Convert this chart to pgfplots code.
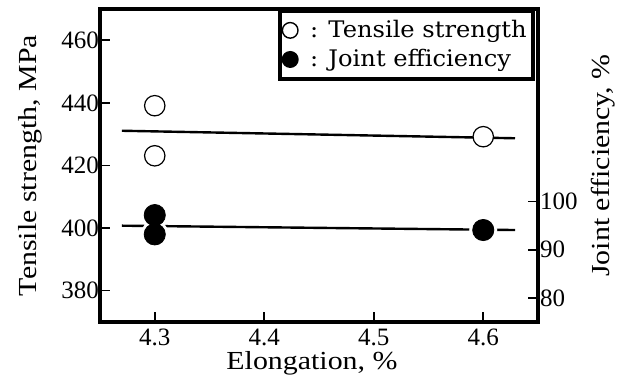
\documentclass[border=0pt]{standalone}
\usepackage{pgfplots}
\pgfplotsset{compat=1.18}
\usetikzlibrary{calc}
\usepackage{fontspec}
\setmainfont{Liberation Serif}
\newfontfamily\labfont{Liberation Serif}[FakeStretch=1.15]
\newfontfamily\legfont{DejaVu Serif}[FakeStretch=1.06]
\pgfplotstableread{
x y
4.3 439.1
4.3 423.1
4.6 429.2
}\tensile
\pgfplotstableread{
x y
4.3 97.2
4.3 93.2
4.6 94.1
}\joint
\pgfplotstableread{
x y
4.270 431.1
4.629 428.7
}\tensileline
\pgfplotstableread{
x y
4.270 95.0
4.629 94.1
}\jointline
\begin{document}
\begin{tikzpicture}
\pgfplotsset{every axis/.append style={scale only axis, width=219pt, height=156.5pt,
  xmin=4.25, xmax=4.65, axis line style={line width=1.8pt},
  major tick style={line width=0.8pt, black}, major tick length=5pt,
  tick align=inside,
  tick label style={font=\fontsize{12.5}{14}\selectfont},
  /pgf/number format/assume math mode=true}}
\begin{axis}[name=main,
  ymin=370, ymax=470, ytick={380,400,420,440,460}, ytick pos=left,
  xtick=\empty,
  yticklabel style={xshift=3pt},
  ylabel={Tensile strength, MPa},
  every axis y label/.style={at={(axis description cs:-0.160,0.5)}, rotate=90, anchor=center, font=\labfont\fontsize{13}{15}\selectfont},
  legend style={at={(0.993,1)}, anchor=north east, draw=black, line width=1.8pt,
    font=\legfont\fontsize{11.4}{13.5}\selectfont, inner xsep=1pt, inner ysep=2.5pt, row sep=0pt,
    nodes={inner sep=2.2pt},
    legend cell align=left},
  legend image code/.code={\draw[#1] (0.14cm,0cm) circle[radius=3.9pt];},
]
\addlegendimage{black, line width=0.7pt, fill=white}
\addlegendentry{\hspace{3.5pt}: Tensile strength}
\addlegendimage{black, line width=0.7pt, fill=black}
\addlegendentry{\hspace{3.5pt}: Joint efficiency}
\addplot[black, line width=1.2pt, forget plot] table[x=x,y=y]{\tensileline};
\addplot[only marks, mark=*, mark size=5.1pt, mark options={draw=black, fill=white, line width=0.6pt}, forget plot] table[x=x,y=y]{\tensile};
\end{axis}
\begin{axis}[
  ymin=75, ymax=140, ytick={80,90,100}, ytick pos=right, xtick pos=bottom,
  xtick={4.3,4.4,4.5,4.6},
  /pgf/number format/.cd, fixed, precision=1, /pgfplots/.cd,
  yticklabel style={xshift=-2.5pt},
  xlabel={Elongation, \%}, ylabel={Joint efficiency, \%},
  every axis x label/.style={at={(axis description cs:0.484,-0.131)}, anchor=center, font=\labfont\fontsize{13}{15}\selectfont},
  every axis y label/.style={at={(axis description cs:1.148,0.5)}, rotate=90, anchor=center, font=\labfont\fontsize{13}{15}\selectfont},
]
\addplot[black, line width=1.2pt] table[x=x,y=y]{\jointline};
\addplot[only marks, mark=*, mark size=6.8pt, mark options={draw=white, fill=white}] table[x=x,y=y]{\joint};
\addplot[only marks, mark=*, mark size=5.3pt, mark options={draw=black, fill=black}] table[x=x,y=y]{\joint};
\end{axis}
\path (main.south west) ++(-50pt,-28.5pt) rectangle ($(main.north east)+(47.5pt,4.5pt)$);
\end{tikzpicture}
\end{document}
